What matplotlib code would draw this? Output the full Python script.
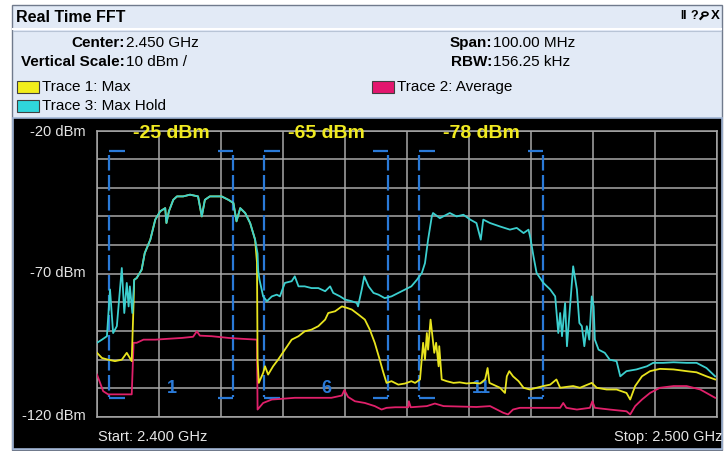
import numpy as np
import matplotlib.pyplot as plt
from matplotlib.patches import Rectangle, Circle
from matplotlib.lines import Line2D

W, H = 725, 451

# Spectrum traces, frequency in MHz, level in dBm
max_hold_f = [2400.0, 2400.8, 2401.6, 2402.1, 2402.6, 2403.2, 2404.0, 2404.4, 2404.8, 2405.1,
              2405.3, 2405.7, 2406.0, 2406.4, 2407.2, 2407.7, 2408.6, 2409.4, 2410.2, 2411.0,
              2411.2, 2411.6, 2412.3, 2412.9, 2413.9, 2415.0, 2416.3, 2416.9, 2417.4, 2418.2,
              2420.1, 2421.2, 2422.0, 2422.5, 2423.1, 2423.9, 2424.7, 2425.5, 2425.9, 2426.0,
              2426.2, 2426.8, 2427.4, 2428.2, 2429.0, 2429.5, 2430.3, 2431.4, 2431.9, 2432.5,
              2433.5, 2434.6, 2435.7, 2436.8, 2437.6, 2438.1, 2439.2, 2440.0, 2441.1, 2441.9,
              2442.1, 2442.7, 2443.1, 2443.8, 2444.6, 2445.4, 2446.4, 2447.5, 2448.6, 2449.7,
              2450.7, 2451.6, 2452.4, 2452.9, 2453.4, 2454.0, 2454.2, 2455.3, 2456.9, 2458.0,
              2459.1, 2460.2, 2461.2, 2461.9, 2462.3, 2463.4, 2465.0, 2466.6, 2467.7, 2468.8,
              2469.6, 2469.9, 2470.4, 2470.9, 2472.0, 2473.1, 2473.9, 2474.4, 2474.7, 2475.0,
              2475.5, 2475.8, 2476.3, 2476.8, 2477.4, 2477.8, 2478.2, 2478.6, 2479.0, 2479.4,
              2479.8, 2480.1, 2480.3, 2480.9, 2481.9, 2482.7, 2483.8, 2484.4, 2485.4, 2487.0,
              2488.7, 2489.7, 2491.3, 2493.0, 2495.1, 2496.7, 2498.3, 2499.7]
max_hold_db = [-94.1, -93.0, -91.8, -75.5, -90.7, -88.3, -68.0, -83.7, -73.2, -81.4,
               -74.4, -83.7, -72.1, -71.5, -68.6, -62.8, -58.1, -51.1, -48.2, -47.1,
               -52.3, -48.2, -44.2, -43.0, -43.0, -42.4, -43.0, -50.0, -44.2, -43.0,
               -43.0, -44.2, -45.3, -51.7, -47.1, -48.8, -52.3, -58.1, -63.0, -69.0,
               -72.0, -77.9, -79.6, -77.9, -77.3, -77.9, -73.2, -72.6, -70.9, -74.4,
               -74.4, -75.0, -75.0, -76.1, -74.4, -76.7, -77.9, -79.0, -79.6, -80.2,
               -81.4, -75.5, -70.9, -74.4, -76.7, -77.3, -78.5, -77.9, -76.7, -75.5,
               -74.4, -72.1, -69.7, -66.3, -58.1, -50.0, -48.8, -50.6, -48.8, -50.0,
               -49.4, -51.1, -52.3, -58.1, -51.1, -52.3, -53.5, -54.6, -54.0, -55.8,
               -54.6, -57.5, -63.9, -69.7, -73.2, -75.5, -77.9, -90.7, -83.7, -91.8,
               -80.2, -95.3, -81.4, -67.4, -75.5, -87.2, -88.3, -95.3, -88.3, -93.0,
               -77.9, -81.4, -93.0, -96.5, -97.6, -100.0, -100.5, -105.8, -104.0, -103.4,
               -102.3, -101.1, -101.1, -100.9, -101.1, -101.1, -102.9, -105.8]

max_f = [2400.0, 2400.8, 2401.8, 2402.9, 2404.0, 2404.8, 2405.6, 2405.9, 2406.0, 2406.4,
         2407.2, 2407.7, 2408.6, 2409.4, 2410.2, 2411.0, 2411.2, 2411.6, 2412.3, 2412.9,
         2413.9, 2415.0, 2416.3, 2416.9, 2417.4, 2418.2, 2420.1, 2421.2, 2422.0, 2422.5,
         2423.1, 2423.9, 2424.7, 2425.5, 2425.8, 2425.9,
         2426.1, 2426.8, 2427.1, 2427.6, 2428.4, 2429.2, 2430.3, 2431.4, 2432.5, 2433.5,
         2434.6, 2435.7, 2436.8, 2437.3, 2438.4, 2439.5, 2440.3, 2441.1, 2442.2, 2443.2,
         2444.0, 2444.8, 2445.6, 2446.2, 2446.7, 2447.5, 2448.6, 2449.7, 2450.7, 2451.3,
         2452.1, 2452.6, 2452.9, 2453.2, 2453.4, 2453.8, 2454.1, 2454.4, 2454.7, 2455.1,
         2455.2, 2455.6, 2456.4, 2457.5, 2458.5, 2459.6, 2460.7, 2461.8, 2462.6, 2463.0,
         2463.3, 2463.9, 2465.0, 2465.8, 2466.1, 2466.5, 2467.1, 2468.0, 2468.8, 2469.8,
         2470.9, 2472.0, 2473.1, 2474.1, 2474.7, 2475.7, 2476.8, 2477.9, 2479.8, 2480.6,
         2482.2, 2483.8, 2485.4, 2486.0, 2486.8, 2487.9, 2489.2, 2490.8, 2493.0, 2495.1,
         2496.7, 2498.3, 2499.7]
max_db = [-97.6, -99.4, -100.0, -100.5, -100.0, -97.6, -100.5, -80.2, -72.1, -71.5,
          -68.6, -62.8, -58.1, -51.1, -48.2, -47.1, -52.3, -48.2, -44.2, -43.0,
          -43.0, -42.4, -43.0, -50.0, -44.2, -43.0, -43.0, -44.2, -45.3, -51.7,
          -47.1, -48.8, -52.3, -58.1, -66.0, -100.0,
          -108.1, -104.6, -102.3, -105.2, -102.3, -100.0, -96.5, -93.0, -91.8, -90.1,
          -89.5, -88.3, -86.0, -83.7, -83.1, -81.4, -81.9, -82.5, -84.3, -86.0,
          -89.5, -94.1, -100.0, -104.6, -108.1, -107.5, -108.7, -108.3, -107.5, -108.1,
          -106.9, -94.1, -100.0, -90.7, -96.5, -86.0, -91.8, -97.6, -94.1, -102.3,
          -95.3, -106.9, -107.5, -108.1, -107.9, -108.3, -108.1, -108.3, -106.9, -102.9,
          -108.1, -108.7, -109.8, -111.6, -105.8, -104.0, -105.8, -107.5, -109.8, -110.4,
          -109.8, -109.2, -108.7, -106.9, -109.8, -109.5, -109.2, -109.8, -108.1, -109.8,
          -110.4, -110.4, -111.6, -113.9, -109.2, -105.8, -104.0, -103.2, -103.4, -104.0,
          -104.4, -105.8, -106.9]

avg_f = [2400.0, 2400.5, 2401.0, 2401.8, 2404.0, 2405.6, 2405.9, 2406.4, 2407.5, 2409.4,
         2411.5, 2413.7, 2415.5, 2416.1, 2416.6, 2418.5, 2421.2, 2423.3, 2425.8, 2425.9,
         2426.8, 2428.2, 2429.5, 2431.9, 2434.6, 2437.8, 2439.5, 2439.9, 2440.5, 2441.6,
         2443.2, 2444.8, 2445.9, 2446.7, 2448.1, 2450.2, 2450.3, 2450.6, 2453.2, 2454.5,
         2455.9, 2461.2, 2463.4, 2464.5, 2465.5, 2466.3, 2467.1, 2468.2, 2474.7, 2475.2,
         2475.7, 2477.4, 2479.5, 2479.9, 2480.3, 2482.7, 2485.4, 2486.0, 2486.8, 2487.9,
         2489.2, 2490.8, 2493.0, 2495.1, 2496.2, 2497.3, 2498.3, 2499.7]
avg_db = [-105.2, -108.1, -111.0, -112.1, -112.1, -112.1, -94.1, -94.1, -93.0, -93.0,
          -92.7, -92.4, -92.0, -90.1, -91.6, -91.8, -92.4, -92.7, -93.0, -117.4,
          -115.1, -113.9, -113.7, -113.3, -113.3, -113.3, -112.5, -110.6, -113.0, -114.5,
          -115.1, -116.2, -117.4, -116.8, -116.6, -116.6, -114.5, -116.6, -116.2, -115.3,
          -116.2, -116.5, -116.2, -117.4, -118.5, -119.1, -117.4, -116.8, -116.8, -115.1,
          -116.8, -117.4, -116.8, -114.5, -116.8, -117.4, -118.0, -119.1, -116.2, -113.9,
          -111.6, -109.8, -109.2, -109.2, -109.8, -110.4, -111.6, -113.3]

# Wi-Fi channel masks
channels = ["1", "6", "11"]
ch_center = [2412, 2437, 2462]
ch_half_width = 10
ch_top, ch_bottom = -27.0, -113.5
ch_power = ["-25 dBm", "-65 dBm", "-78 dBm"]

legend_items = [("Trace 1: Max", "#f2ee1c"), ("Trace 2: Average", "#e3166e"),
                ("Trace 3: Max Hold", "#2fd6dc")]

C_MAX, C_AVG, C_HOLD = "#e8e41e", "#e0206a", "#3ccfcf"
C_CH = "#2a7ad8"
C_TXT = "#e6e6e6"
HDR = 11


def fx(x):
    return x / W


def fy(y):
    return 1 - y / H


plt.rcParams["font.family"] = ["Liberation Sans", "DejaVu Sans"]
fig = plt.figure(figsize=(W / 100, H / 100), dpi=100)
fig.patch.set_facecolor("white")

# window frame and header
fig.patches.append(Rectangle((fx(12), fy(450)), 710 / W, 445 / H, transform=fig.transFigure,
                             facecolor="#e2eaf6", edgecolor="#707a8c", lw=1.0, zorder=-10))
fig.add_artist(Line2D([fx(13), fx(721)], [fy(29), fy(29)], transform=fig.transFigure,
                      color="white", lw=1.5, zorder=-9))
fig.add_artist(Line2D([fx(13), fx(721)], [fy(30.5), fy(30.5)], transform=fig.transFigure,
                      color="#b8c4d6", lw=0.8, zorder=-9))
fig.patches.append(Rectangle((fx(13), fy(449)), 709 / W, 331 / H, transform=fig.transFigure,
                             facecolor="black", edgecolor="#9fb4d4", lw=1.2, zorder=-8))

fig.text(fx(16), fy(17), "Real Time FFT", fontsize=11.5, fontweight="bold", va="center")

# title bar buttons: pause, help, zoom, close
fig.text(fx(680), fy(16), "II", fontsize=8.5, fontweight="bold", va="center")
fig.text(fx(690), fy(16), "?", fontsize=9, fontweight="bold", va="center")
fig.patches.append(Circle((fx(705), fy(14)), 3.0 / W, transform=fig.transFigure,
                          fill=False, edgecolor="black", lw=1.2))
fig.add_artist(Line2D([fx(702.8), fx(700.5)], [fy(16.2), fy(18.8)], transform=fig.transFigure,
                      color="black", lw=1.6))
fig.text(fx(711), fy(16), "X", fontsize=9.5, fontweight="bold", va="center")

for lab, val, xr, yy in [("Center:", "2.450 GHz", 125, 43),
                         ("Vertical Scale:", "10 dBm /", 125, 62),
                         ("Span:", "100.00 MHz", 492, 43),
                         ("RBW:", "156.25 kHz", 492, 62)]:
    fig.text(fx(xr), fy(yy), lab, fontsize=HDR, fontweight="bold", ha="right", va="center")
    fig.text(fx(xr + 1), fy(yy), val, fontsize=HDR, ha="left", va="center")

for (name, col), (xs, yy) in zip(legend_items, [(17, 87), (372, 87), (17, 106)]):
    fig.patches.append(Rectangle((fx(xs), fy(yy + 6)), 22 / W, 12 / H, transform=fig.transFigure,
                                 facecolor=col, edgecolor="#404040", lw=0.8))
    fig.text(fx(xs + 25), fy(yy), name, fontsize=HDR, va="center")

# spectrum axes
ax = fig.add_axes([fx(97), fy(417), 620 / W, 286.5 / H])
ax.set_facecolor("black")
ax.set_xlim(2400, 2500)
ax.set_ylim(-120, -20)
ax.set_xticks(np.arange(2400, 2501, 10))
ax.set_yticks(np.arange(-120, -19, 10))
ax.tick_params(length=0, labelbottom=False, labelleft=False)
ax.grid(True, color="#a8a8a8", lw=1.1)
for s in ax.spines.values():
    s.set_color("#a8a8a8")
    s.set_linewidth(1.1)

for c, lab, pw in zip(ch_center, channels, ch_power):
    lo, hi = c - ch_half_width, c + ch_half_width
    for xe, d in [(lo, 2.5), (hi, -2.5)]:
        ax.plot([xe, xe], [ch_top - 1.5, ch_bottom + 0.5], color=C_CH, lw=1.6,
                ls=(0, (7, 2)), zorder=3)
        ax.plot([xe, xe + d], [ch_top, ch_top], color=C_CH, lw=1.6, zorder=3,
                solid_capstyle="butt")
        ax.plot([xe, xe + d], [ch_bottom, ch_bottom], color=C_CH, lw=1.6, zorder=3,
                solid_capstyle="butt")
    ax.text(c, -110, lab, color=C_CH, fontsize=13, fontweight="bold",
            ha="center", va="center", zorder=3)
    ax.text(c, -21, pw, color="#f0ea20", fontsize=14, fontweight="bold",
            ha="center", va="center", zorder=6, clip_on=False)

ax.plot(avg_f, avg_db, color=C_AVG, lw=1.3, zorder=4)
ax.plot(max_f, max_db, color=C_MAX, lw=1.3, zorder=4)
ax.plot(max_hold_f, max_hold_db, color=C_HOLD, lw=1.3, zorder=5)

for lab, yy in [("-20 dBm", 132), ("-70 dBm", 273), ("-120 dBm", 416)]:
    fig.text(fx(86), fy(yy), lab, color=C_TXT, fontsize=10.5, ha="right", va="center")
fig.text(fx(98), fy(437), "Start: 2.400 GHz", color=C_TXT, fontsize=10.5, ha="left", va="center")
fig.text(fx(723), fy(437), "Stop: 2.500 GHz", color=C_TXT, fontsize=10.5, ha="right", va="center")

fig.savefig("out.png", dpi=100, facecolor=fig.get_facecolor())
